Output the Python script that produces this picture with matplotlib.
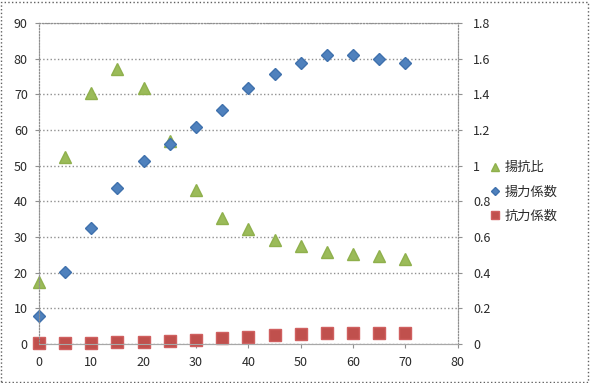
import matplotlib
matplotlib.use("Agg")
import matplotlib.pyplot as plt
from matplotlib.patches import Rectangle

plt.rcParams['font.family'] = ['Noto Sans CJK JP', 'DejaVu Sans']

angle = [0, 5, 10, 15, 20, 25, 30, 35, 40, 45, 50, 55, 60, 65, 70]
ld_ratio = [17.5, 52.3, 70.5, 77.0, 71.8, 57.0, 43.3, 35.2, 32.2, 29.2, 27.5, 25.7, 25.1, 24.6, 23.7]
lift = [0.154, 0.404, 0.648, 0.872, 1.028, 1.124, 1.218, 1.312, 1.436, 1.514, 1.576, 1.62, 1.62, 1.60, 1.578]
drag = [0.008, 0.008, 0.008, 0.010, 0.011, 0.015, 0.024, 0.035, 0.041, 0.049, 0.054, 0.060, 0.061, 0.063, 0.063]

fig = plt.figure(figsize=(5.9, 3.83), dpi=100)
ax = fig.add_axes([0.066, 0.102, 0.71, 0.838])
ax2 = ax.twinx()

grid_c = '#909090'
ax.set_xlim(0, 80)
ax.set_ylim(0, 90)
ax.set_xticks(range(0, 81, 10))
ax.set_yticks(range(0, 91, 10))
ax2.set_ylim(0, 1.8)
ax2.set_yticks([0, 0.2, 0.4, 0.6, 0.8, 1, 1.2, 1.4, 1.6, 1.8])
ax2.set_yticklabels(['0', '0.2', '0.4', '0.6', '0.8', '1', '1.2', '1.4', '1.6', '1.8'])

ax.grid(axis='y', color=grid_c, linestyle=':', linewidth=1)
ax.set_axisbelow(True)
for a in (ax, ax2):
    for side in ('top', 'right', 'left'):
        a.spines[side].set_color(grid_c)
        a.spines[side].set_linestyle(':')
    a.spines['bottom'].set_color('#a8a8a8')
    a.tick_params(colors=grid_c, labelcolor='#2a2a2a', labelsize=9, length=3)
ax.tick_params(axis='x', pad=6)
ax.tick_params(axis='y', pad=5)
ax2.tick_params(axis='y', pad=8)

h1, = ax.plot(angle, ld_ratio, linestyle='none', marker='^', markersize=9,
              color='#9bbb59', markeredgecolor='#8fb04c', label='揚抗比', clip_on=False)
h2, = ax2.plot(angle, lift, linestyle='none', marker='D', markersize=6.5,
               color='#4f81bd', markeredgecolor='#3f71ad', label='揚力係数', clip_on=False)
h3, = ax2.plot(angle, drag, linestyle='none', marker='s', markersize=8.5,
               color='#c0504d', markeredgecolor='#d06060', label='抗力係数', clip_on=False)

fig.legend(handles=[h1, h2, h3], loc='upper left', bbox_to_anchor=(0.81, 0.61),
           frameon=False, fontsize=9.5, markerscale=0.6, handlelength=0.8,
           handletextpad=0.3, labelspacing=0.85, labelcolor='#2a2a2a')

fig.patches.append(Rectangle((0.002, 0.003), 0.995, 0.993, transform=fig.transFigure,
                             fill=False, edgecolor='#606060', linestyle=':', linewidth=1))

fig.savefig('out.png', dpi=100)
